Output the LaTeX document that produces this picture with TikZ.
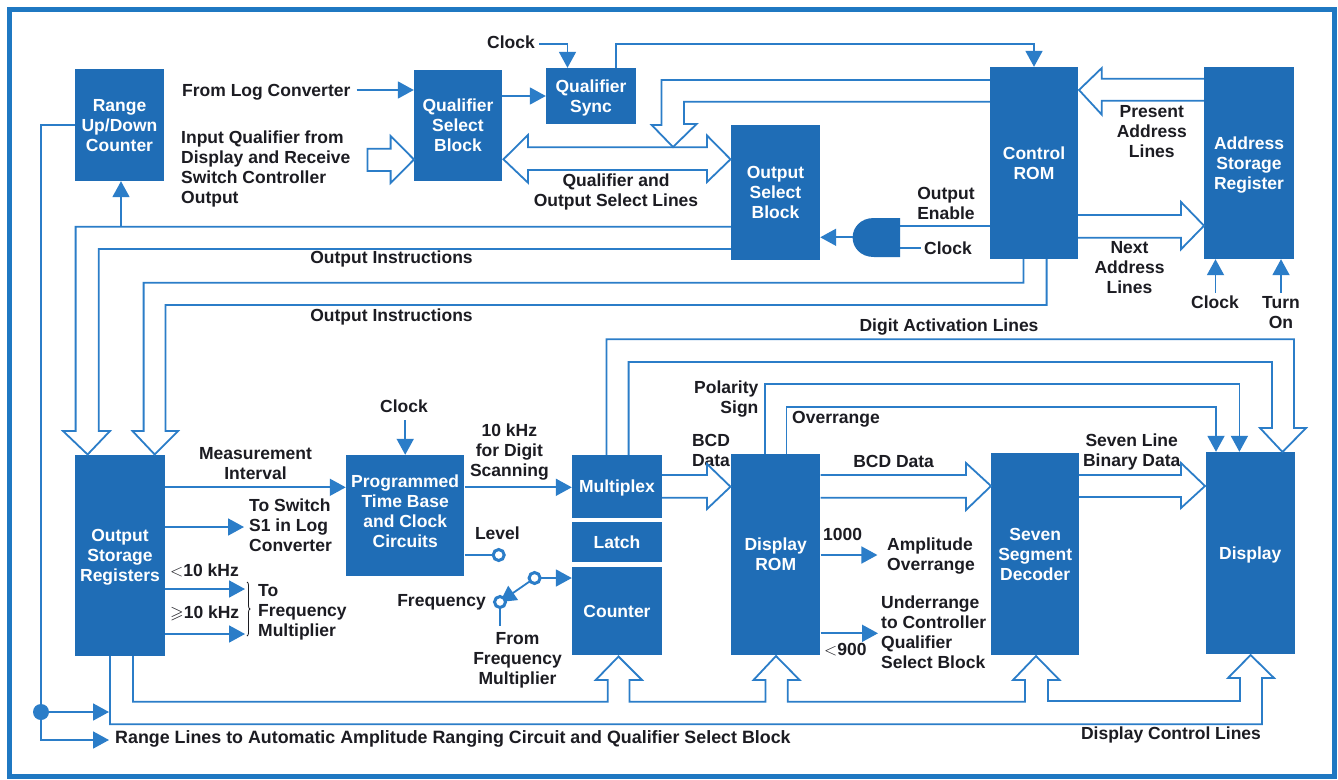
\documentclass[tikz,border=0pt]{standalone}
\usepackage{amssymb}
\usepackage{fontspec}
\setmainfont{Liberation Sans}
\usetikzlibrary{arrows.meta,decorations.pathreplacing}
\definecolor{blockblue}{HTML}{1F6DB6}
\definecolor{wireblue}{HTML}{2B7DC8}
\definecolor{frameblue}{HTML}{1F78C2}
\definecolor{inkblack}{HTML}{1C1C22}
\tikzset{
	blk/.style={fill=blockblue,text=white,inner sep=0pt,align=center,text depth=-3pt,font=\bfseries\fontsize{17.5}{20}\selectfont},
	lbl/.style={text=inkblack,inner sep=0pt,text depth=0pt,font=\bfseries\fontsize{17.5}{20}\selectfont},
	sig/.style={draw=wireblue,line width=1.8pt,-{Triangle[length=16pt,width=17pt]}},
	wire/.style={draw=wireblue,line width=1.8pt},
	bus/.style={draw=wireblue,line width=1.8pt,line join=miter},
	term/.style={draw=wireblue,line width=3pt,fill=white,x radius=5.5pt,y radius=5.5pt}
}
\begin{document}
\begin{tikzpicture}[x=1pt,y=-1pt]
	\useasboundingbox (0,0) rectangle (1338,779);
	\fill[white] (0,0) rectangle (1338,779);
	\draw[frameblue,line width=5pt] (9.5,9.5) rectangle (1334,776.5);

	\node[blk,minimum width=89pt,minimum height=112pt] (range) at (119.5,125) {Range\\Up/Down\\Counter};
	\node[blk,minimum width=88pt,minimum height=111pt] (qsel) at (458,125) {Qualifier\\Select\\Block};
	\node[blk,minimum width=90pt,minimum height=56pt] (qsync) at (591,96) {Qualifier\\Sync};
	\node[blk,text depth=-7pt,minimum width=89pt,minimum height=135pt] (osel) at (775.5,192.5) {Output\\Select\\Block};
	\node[blk,text depth=-7pt,minimum width=88pt,minimum height=192pt] (ctl) at (1034,163) {Control\\ROM};
	\node[blk,minimum width=90pt,minimum height=192pt] (addr) at (1249,163) {Address\\Storage\\Register};
	\node[blk,minimum width=90pt,minimum height=201pt] (ostore) at (120,555.5) {Output\\Storage\\Registers};
	\node[blk,minimum width=118.5pt,minimum height=121pt] (prog) at (405.2,515.5) {Programmed\\Time Base\\and Clock\\Circuits\\[-11pt]};
	\node[blk,minimum width=90pt,minimum height=63pt] (mux) at (617,486.5) {Multiplex};
	\node[blk,minimum width=90pt,minimum height=40pt] (latch) at (617,542) {Latch};
	\node[blk,minimum width=90pt,minimum height=88pt] (cnt) at (617,611) {Counter};
	\node[blk,text depth=-8pt,minimum width=89.5pt,minimum height=201pt] (drom) at (775.7,554.5) {Display\\ROM};
	\node[blk,text depth=-7pt,minimum width=87.5pt,minimum height=202pt] (seven) at (1035.2,554) {Seven\\Segment\\Decoder};
	\node[blk,minimum width=89.5pt,minimum height=202pt] (disp) at (1250.3,553) {Display};

	\node[lbl,anchor=west] (fromlog) at (182,90) {From Log Converter};
	\node[lbl,anchor=west,align=left] (inqual) at (181,167) {Input Qualifier from\\Display and Receive\\Switch Controller\\Output};
	\node[lbl] (qclk) at (511,42) {Clock};
	\node[lbl,align=center] (qlines) at (616,190) {Qualifier and\\Output Select Lines};
	\node[lbl] (oinstra) at (391.5,257) {Output Instructions};
	\node[lbl] (oinstrb) at (391.5,315) {Output Instructions};
	\node[lbl,align=center] (oen) at (946,203) {Output\\Enable};
	\node[lbl] (gclk) at (948,248) {Clock};
	\node[lbl,align=center] (paddr) at (1151.8,131) {Present\\Address\\Lines};
	\node[lbl,align=center] (naddr) at (1129.5,267) {Next\\Address\\Lines};
	\node[lbl] (aclk) at (1215,302) {Clock};
	\node[lbl,align=center] (turn) at (1281,312) {Turn\\On};
	\node[lbl] (digit) at (949,325) {Digit Activation Lines};
	\node[lbl,align=right,anchor=east] (pol) at (758.6,397.5) {Polarity\\Sign};
	\node[lbl,anchor=west] (over) at (792,417) {Overrange};
	\node[lbl,align=center] (bcda) at (711,450) {BCD\\Data};
	\node[lbl] (bcdb) at (893.6,461) {BCD Data};
	\node[lbl,align=center] (sevenl) at (1131.7,450) {Seven Line\\Binary Data};
	\node[lbl,align=center] (meas) at (255.5,463) {Measurement\\Interval};
	\node[lbl,anchor=west,align=left] (tosw) at (249,525) {To Switch\\S1 in Log\\Converter};
	\node[lbl,anchor=west] (ltk) at (170,570) {$<$10 kHz};
	\node[lbl,anchor=west] (gek) at (170,612) {$\geqslant$10 kHz};
	\node[lbl,anchor=west,align=left] (tofreq) at (258,610) {To\\Frequency\\Multiplier};
	\node[lbl] (pclk) at (404,406) {Clock};
	\node[lbl,align=center] (scan) at (509.4,450.5) {10 kHz\\for Digit\\Scanning};
	\node[lbl] (level) at (497.4,533) {Level};
	\node[lbl,anchor=east] (freq) at (486,600) {Frequency};
	\node[lbl,align=center] (fromf) at (517.5,658) {From\\Frequency\\Multiplier};
	\node[lbl,anchor=west] (kilo) at (823,534) {1000};
	\node[lbl,anchor=west,align=left] (ampl) at (887,554) {Amplitude\\Overrange};
	\node[lbl,anchor=west,align=left] (under) at (881,632.5) {Underrange\\to Controller\\Qualifier\\Select Block};
	\node[lbl,anchor=west] (nine) at (824,649) {$<$900};
	\node[lbl,anchor=west,font=\bfseries\fontsize{17.85}{20}\selectfont] (rlines) at (115,737) {Range Lines to Automatic Amplitude Ranging Circuit and Qualifier Select Block};
	\node[lbl] (dctl) at (1171,733) {Display Control Lines};

	\coordinate (rail) at (41,712);
	\coordinate (railb) at (109,712);
	\coordinate (railc) at (109,740);
	\coordinate (tap) at (121,226.7);
	\coordinate (qclkend) at (539,44);
	\coordinate (gateout) at (852.6,237.3);
	\coordinate (gatea) at (900,226);
	\coordinate (gateb) at (900,248);
	\coordinate (swa) at (534.6,578);
	\coordinate (swb) at (500,602);
	\coordinate (swc) at (500,626);
	\coordinate (lev) at (498.7,555);
	\coordinate (aclkend) at (1215.5,292.7);
	\coordinate (turnend) at (1281,292.7);

	\draw[wire] (range.west) -| (rail);
	\draw[sig] (rail) -- (railb);
	\draw[sig] (rail) |- (railc);
	\fill[wireblue] (rail) circle (8pt);
	\draw[sig] (tap) -- (tap |- range.south);
	\draw[sig] ([xshift=6pt]fromlog.east) -- (qsel.west |- fromlog.east);
	\draw[sig] (qsel.east |- qsync.west) -- (qsync.west);
	\draw[sig] (qclkend) -| (qsync.north -| 567.5,0);
	\draw[sig] (qsync.north -| 616,0) |- (ctl.north |- 0,44) -- (ctl.north);
	\draw[bus] (367.5,148.7) -- (390.6,148.7) -- (390.6,136) -- (414,159.5) -- (390.6,183) -- (390.6,171) -- (367.5,171) -- cycle;
	\draw[bus] (503.4,159.3) -- (528,135) -- (528,147.3) -- (707,147.3) -- (707,135.5) -- (730.5,159.3) -- (707,182) -- (707,170) -- (528,170) -- (528,182.7) -- cycle;
	\draw[bus] (ctl.west |- 0,80) -- (661.5,80) -- (661.5,125) -- (651.7,125) -- (673,147) -- (696.6,124) -- (684,124) -- (684,101.7) -- (ctl.west |- 0,101.7);
	\draw[bus] (addr.west |- 0,78.7) -- (1101.8,78.7) -- (1101.8,68) -- (1079,90) -- (1101.8,114.7) -- (1101.8,100.7) -- (addr.west |- 0,100.7);
	\draw[bus] (ctl.east |- 0,215) -- (1181,215) -- (1181,202) -- (1204,225.7) -- (1181,249.3) -- (1181,237.7) -- (ctl.east |- 0,237.7);
	\draw[bus] (osel.west |- 0,226.7) -- (75.6,226.7) -- (75.6,431) -- (63,431) -- (87.6,454.5) -- (110,431) -- (98.7,431) -- (98.7,249) -- (osel.west |- 0,249);
	\draw[bus] (ctl.south -| 1023.5,0) -- (1023.5,282.7) -- (143.6,282.7) -- (143.6,431) -- (132.5,431) -- (154.7,454.5) -- (178,431) -- (165.4,431) -- (165.4,305) -- (1046.6,305) -- (ctl.south -| 1046.6,0);
	\draw[bus] (mux.north -| 606.4,0) -- (606.4,339.3) -- (1294,339.3) -- (1294,428) -- (1306,428) -- (1282.5,452) -- (1260,428) -- (1272,428) -- (1272,362) -- (628.6,362) -- (mux.north -| 628.6,0);
	\draw[sig] (drom.north -| 764.6,0) |- (1000,384) -| (disp.north -| 1239.4,0);
	\draw[sig] (drom.north -| 786.4,0) |- (1000,406.7) -| (disp.north -| 1216,0);
	\draw[bus] (mux.east |- 0,475) -- (707,475) -- (707,464) -- (730.5,486.7) -- (707,509) -- (707,497.7) -- (mux.east |- 0,497.7);
	\draw[bus] (drom.east |- 0,475) -- (966,475) -- (966,463) -- (991,486) -- (966,510) -- (966,497.7) -- (drom.east |- 0,497.7);
	\draw[bus] (seven.east |- 0,475) -- (1181,475) -- (1181,463) -- (1205,486) -- (1181,508) -- (1181,497) -- (seven.east |- 0,497);
	\draw[bus] (ostore.south -| 133,0) -- (133,701.7) -- (607.7,701.7) -- (607.7,680) -- (595.7,680) -- (618.5,656.5) -- (642,680) -- (629.5,680) -- (629.5,701.7) -- (765.4,701.7) -- (765.4,680) -- (753.5,680) -- (776,656) -- (799.6,680) -- (787.7,680) -- (787.7,701.7) -- (1025,701.7) -- (1025,680) -- (1013,680) -- (1036,656) -- (1059.5,680) -- (1048,680) -- (1048,701) -- (1240,701) -- (1240,678) -- (1228,678) -- (1250.6,655) -- (1274,678) -- (1262,678) -- (1262,724.3) -- (110,724.3) -- (ostore.south -| 110,0);
	\draw[sig] (ostore.east |- 0,487.3) -- (prog.west |- 0,487.3);
	\draw[sig] (ostore.east |- 0,527) -- (244,527);
	\draw[sig] (ostore.east |- 0,589) -- (245,589);
	\draw[sig] (ostore.east |- 0,634) -- (245,634);
	\draw[inkblack,line width=0.8pt,decorate,decoration={brace,amplitude=3pt}] (247,582) -- (247,636);
	\draw[sig] (prog.north |- 0,420) -- (prog.north);
	\draw[sig] (prog.east |- 0,487.3) -- (mux.west |- 0,487.3);
	\draw[wire] (prog.east |- lev) -- (lev);
	\draw[term] (lev) circle;
	\draw[sig] (swa) -- (cnt.west |- swa);
	\draw[sig] (swa) -- (swb);
	\draw[wire] (swb) -- (swc);
	\draw[term] (swa) circle;
	\draw[term] (swb) circle;
	\draw[sig] (drom.east |- 0,555) -- (877.4,555);
	\draw[sig] (drom.east |- 0,633.3) -- (878,633.3);
	\draw[wire] (ctl.west |- gatea) -- (gatea);
	\draw[wire] (gateb) -- ([xshift=-3pt]gclk.west);
	\fill[blockblue] (900,218) -- (874,218) .. controls (860,218) and (852.6,228) .. (852.6,237.5) .. controls (852.6,247) and (860,257) .. (874,257) -- (900,257) -- cycle;
	\draw[sig] (gateout) -- (osel.east |- gateout);
	\draw[sig] (aclkend) -- (addr.south -| aclkend);
	\draw[sig] (turnend) -- (addr.south -| turnend);
\end{tikzpicture}
\end{document}
